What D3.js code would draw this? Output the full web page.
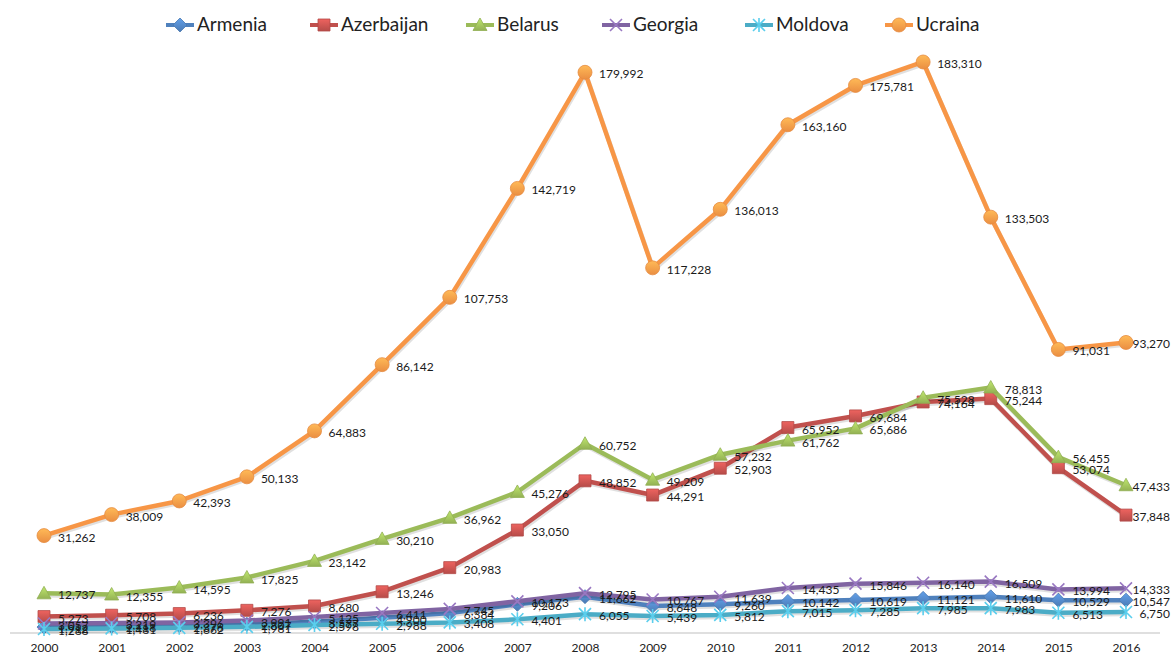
<!DOCTYPE html>
<html><head><meta charset="utf-8">
<script src="https://cdn.jsdelivr.net/npm/d3@7"></script>
<style>body{margin:0;background:#fff;}svg{display:block;}</style>
</head><body>
<svg id="chart" width="1172" height="657"></svg>
<script>
const years = ["2000","2001","2002","2003","2004","2005","2006","2007","2008","2009","2010","2011","2012","2013","2014","2015","2016"];
const seriesNames = ["Armenia","Azerbaijan","Belarus","Georgia","Moldova","Ucraina"];
const armenia    = [1912,2118,2376,2807,3577,4900,6384,9206,11662,8648,9260,10142,10619,11121,11610,10529,10547];
const azerbaijan = [5273,5708,6236,7276,8680,13246,20983,33050,48852,44291,52903,65952,69684,74164,75244,53074,37848];
const belarus    = [12737,12355,14595,17825,23142,30210,36962,45276,60752,49209,57232,61762,65686,75528,78813,56455,47433];
const georgia    = [3057,3219,3396,3991,5125,6411,7745,10173,12795,10767,11639,14435,15846,16140,16509,13994,14333];
const moldova    = [1288,1481,1662,1981,2598,2988,3408,4401,6055,5439,5812,7015,7285,7985,7983,6513,6750];
const ucraina    = [31262,38009,42393,50133,64883,86142,107753,142719,179992,117228,136013,163160,175781,183310,133503,91031,93270];
const seriesColors = ["#4F81BD","#C0504D","#9BBB59","#8064A2","#4BACC6","#F79646"];
const seriesMarkers = ["diamond","square","triangle","times","asterisk","circle"];
const seriesValues = [armenia, azerbaijan, belarus, georgia, moldova, ucraina];

const svg = d3.select("#chart");
const x = d3.scalePoint().domain(years).range([44, 1126]);
const y = d3.scaleLinear().domain([0, 200000]).range([633, 10]);
const fmt = d3.format(",");
const FONT = "Lato, 'Open Sans', sans-serif";

const defs = svg.append("defs");
seriesColors.forEach((c, i) => {
  const g = defs.append("linearGradient").attr("id", "g" + i).attr("x1", 0).attr("y1", 0).attr("x2", 0).attr("y2", 1);
  g.append("stop").attr("offset", "0%").attr("stop-color", d3.color(c).brighter(0.6));
  g.append("stop").attr("offset", "100%").attr("stop-color", d3.color(c).darker(0.15));
});

function markerPath(type) {
  switch (type) {
    case "diamond": return "M0,-7L7,0L0,7L-7,0Z";
    case "square": return "M-6,-6H6V6H-6Z";
    case "triangle": return "M0,-7L7,5.5H-7Z";
    case "circle": return "M7,0A7,7 0 1,1 -7,0A7,7 0 1,1 7,0Z";
    case "times": return "M-6,-6L6,6M6,-6L-6,6";
    case "asterisk": return "M-6,-6L6,6M6,-6L-6,6M0,-7V7";
  }
}
function drawMarker(g, type, i) {
  const open = type === "times" || type === "asterisk";
  g.append("path").attr("d", markerPath(type))
    .attr("fill", open ? "none" : `url(#g${i})`)
    .attr("stroke", open ? d3.color(seriesColors[i]).brighter(0.5) : d3.color(seriesColors[i]).darker(0.2))
    .attr("stroke-width", open ? 1.6 : 0.8);
}

const xAxis = d3.axisBottom(x).tickSize(0).tickPadding(10);
const ax = svg.append("g").attr("transform", "translate(0,633)").call(xAxis);
ax.select(".domain").remove();
svg.append("line").attr("x1", 10).attr("x2", 1160).attr("y1", 633).attr("y2", 633).attr("stroke", "#bfbfbf").attr("stroke-width", 1.2);
ax.selectAll("text").attr("font-family", FONT).attr("font-size", 12).attr("fill", "#222");

const line = d3.line().x((d, j) => x(years[j])).y(d => y(d));
seriesValues.forEach((vals, i) => {
  svg.append("path").datum(vals).attr("d", line)
    .attr("fill", "none").attr("stroke", "rgba(0,0,0,0.12)").attr("stroke-width", 4.5)
    .attr("transform", "translate(1,2)");
  svg.append("path").datum(vals).attr("d", line)
    .attr("fill", "none").attr("stroke", seriesColors[i]).attr("stroke-width", 4.5)
    .attr("stroke-linejoin", "round");
  vals.forEach((v, j) => {
    const g = svg.append("g").attr("transform", `translate(${x(years[j])},${y(v)})`);
    drawMarker(g, seriesMarkers[i], i);
  });
});

seriesValues.forEach((vals, i) => {
  svg.append("g").selectAll("text").data(vals).join("text")
    .attr("x", (d, j) => x(years[j]) + 14)
    .attr("y", d => y(d) + 3)
    .attr("dominant-baseline", "middle")
    .attr("font-family", FONT)
    .attr("font-size", 12)
    .attr("fill", "#1a1a1a")
    .text(d => fmt(d))
    .each(function() {
      const w = this.getComputedTextLength();
      const xx = +this.getAttribute("x");
      if (xx + w > 1170) this.setAttribute("x", 1170 - w);
    });
});

const legendX = [166, 310, 466, 602, 745, 885];
seriesNames.forEach((n, i) => {
  const g = svg.append("g").attr("transform", `translate(${legendX[i]},25)`);
  g.append("line").attr("x1", 0).attr("x2", 28).attr("stroke", seriesColors[i]).attr("stroke-width", 4);
  const m = g.append("g").attr("transform", "translate(14,0)");
  drawMarker(m, seriesMarkers[i], i);
  g.append("text").attr("x", 31).attr("y", 1).attr("dominant-baseline", "middle")
    .attr("font-family", FONT).attr("font-size", 19).attr("fill", "#222").text(n);
});
</script>
</body></html>
